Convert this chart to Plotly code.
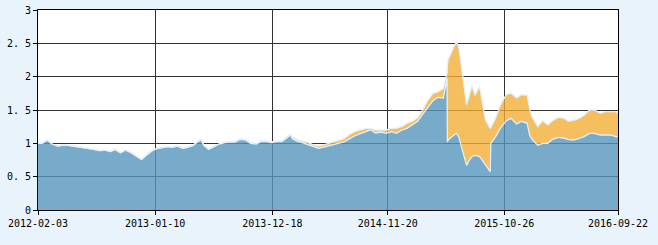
import plotly.graph_objects as go

dates = [
    "2012-02-03", "2012-02-15", "2012-03-01", "2012-03-15", "2012-04-01", "2012-04-15",
    "2012-05-01", "2012-05-15", "2012-06-01", "2012-06-15", "2012-07-01", "2012-07-15",
    "2012-08-01", "2012-08-15", "2012-09-01", "2012-09-15", "2012-10-01", "2012-10-15",
    "2012-11-01", "2012-11-15", "2012-12-01", "2012-12-15", "2013-01-01", "2013-01-15",
    "2013-02-01", "2013-02-15", "2013-03-01", "2013-03-15", "2013-04-01", "2013-04-15",
    "2013-05-01", "2013-05-15", "2013-05-24", "2013-06-01", "2013-06-15", "2013-07-01",
    "2013-07-15", "2013-08-01", "2013-08-15", "2013-09-01", "2013-09-15", "2013-10-01",
    "2013-10-15", "2013-11-01", "2013-11-15", "2013-12-01", "2013-12-15", "2014-01-01",
    "2014-01-15", "2014-02-01", "2014-02-08", "2014-02-15", "2014-03-01", "2014-03-15",
    "2014-04-01", "2014-04-15", "2014-05-01", "2014-05-15", "2014-06-01", "2014-06-15",
    "2014-07-01", "2014-07-15", "2014-08-01", "2014-08-15", "2014-09-01", "2014-09-15",
    "2014-10-01", "2014-10-15", "2014-11-01", "2014-11-15", "2014-12-01", "2014-12-15",
    "2015-01-01", "2015-01-15", "2015-02-01", "2015-02-15", "2015-03-01", "2015-03-15",
    "2015-04-01", "2015-04-15", "2015-05-01", "2015-05-12", "2015-05-13", "2015-05-15",
    "2015-06-01", "2015-06-08", "2015-06-15", "2015-07-01", "2015-07-08", "2015-07-15",
    "2015-07-24", "2015-08-01", "2015-08-15", "2015-09-01", "2015-09-15", "2015-09-17",
    "2015-10-01", "2015-10-15", "2015-11-01", "2015-11-15", "2015-12-01", "2015-12-15",
    "2016-01-01", "2016-01-08", "2016-01-15", "2016-02-01", "2016-02-15", "2016-03-01",
    "2016-03-15", "2016-04-01", "2016-04-15", "2016-05-01", "2016-05-15", "2016-06-01",
    "2016-06-15", "2016-07-01", "2016-07-15", "2016-08-01", "2016-08-15", "2016-09-01",
    "2016-09-15", "2016-09-22",
]

blue_values = [
    1.00, 1.00, 1.05, 0.99, 0.96, 0.975,
    0.97, 0.96, 0.95, 0.94, 0.925, 0.91,
    0.89, 0.90, 0.875, 0.91, 0.86, 0.90,
    0.86, 0.81, 0.76, 0.82, 0.89, 0.92,
    0.94, 0.95, 0.94, 0.96, 0.925, 0.94,
    0.97, 1.03, 1.05, 0.97, 0.91, 0.95,
    0.99, 1.01, 1.02, 1.02, 1.06, 1.05,
    1.00, 0.99, 1.025, 1.025, 1.01, 1.025,
    1.025, 1.09, 1.125, 1.07, 1.03, 1.01,
    0.98, 0.945, 0.925, 0.94, 0.96, 0.975,
    0.995, 1.02, 1.07, 1.11, 1.145, 1.17,
    1.20, 1.155, 1.17, 1.15, 1.175, 1.15,
    1.20, 1.225, 1.285, 1.33, 1.43, 1.53,
    1.64, 1.69, 1.68, 1.975, 1.02, 1.05,
    1.12, 1.15, 1.10, 0.80, 0.67, 0.74,
    0.80, 0.82, 0.80, 0.68, 0.575, 1.00,
    1.10, 1.23, 1.34, 1.375, 1.29, 1.33,
    1.30, 1.12, 1.06, 0.97, 1.00, 1.00,
    1.06, 1.09, 1.08, 1.055, 1.05, 1.075,
    1.10, 1.15, 1.15, 1.125, 1.125, 1.125,
    1.10, 1.10,
]

orange_values = [
    1.00, 1.00, 1.05, 0.99, 0.96, 0.975,
    0.97, 0.96, 0.95, 0.94, 0.925, 0.91,
    0.89, 0.90, 0.875, 0.91, 0.86, 0.90,
    0.86, 0.81, 0.76, 0.82, 0.89, 0.92,
    0.94, 0.95, 0.945, 0.96, 0.925, 0.945,
    0.97, 1.03, 1.06, 0.975, 0.91, 0.95,
    0.99, 1.015, 1.025, 1.03, 1.07, 1.06,
    1.01, 1.00, 1.035, 1.035, 1.02, 1.035,
    1.035, 1.10, 1.14, 1.09, 1.055, 1.035,
    1.015, 0.98, 0.96, 0.975, 1.00, 1.025,
    1.045, 1.07, 1.135, 1.175, 1.20, 1.22,
    1.225, 1.20, 1.20, 1.20, 1.225, 1.225,
    1.255, 1.30, 1.335, 1.385, 1.49, 1.63,
    1.75, 1.77, 1.82, 2.05, 2.15, 2.25,
    2.45, 2.52, 2.45, 1.80, 1.58, 1.70,
    1.87, 1.72, 1.85, 1.35, 1.225, 1.24,
    1.38, 1.58, 1.73, 1.75, 1.68, 1.73,
    1.72, 1.52, 1.40, 1.25, 1.34, 1.28,
    1.34, 1.39, 1.38, 1.33, 1.345, 1.375,
    1.42, 1.50, 1.50, 1.45, 1.475, 1.475,
    1.475, 1.45,
]

tick_dates = ["2012-02-03", "2013-01-10", "2013-12-18", "2014-11-20", "2015-10-26", "2016-09-22"]
y_ticks = [0, 0.5, 1, 1.5, 2, 2.5, 3]
y_tick_text = ["0", "0. 5", "1", "1. 5", "2", "2. 5", "3"]

edge = "rgba(225,240,250,1)"

fig = go.Figure()
fig.add_trace(go.Scatter(
    x=dates, y=blue_values, mode="lines", fill="tozeroy",
    line=dict(color=edge, width=1.3),
    fillcolor="rgba(86,149,187,0.8)", hoverinfo="skip", showlegend=False,
))
fig.add_trace(go.Scatter(
    x=dates, y=orange_values, mode="lines", fill="tonexty",
    line=dict(color=edge, width=1.3),
    fillcolor="rgba(242,172,50,0.78)", hoverinfo="skip", showlegend=False,
))

font = dict(family="DejaVu Sans Mono", size=10, color="#000000")
fig.update_layout(
    width=658, height=245,
    margin=dict(l=38, r=40, t=10, b=35, autoexpand=False),
    paper_bgcolor="#e8f3fb",
    plot_bgcolor="#ffffff",
    font=font,
    showlegend=False,
)
fig.update_xaxes(
    type="date", automargin=False,
    range=["2012-02-03", "2016-09-22"],
    tickvals=tick_dates, ticktext=tick_dates,
    showgrid=True, gridcolor="#333333", gridwidth=1,
    showline=True, linecolor="#000000", linewidth=1, mirror=True,
    ticks="outside", ticklen=4, tickcolor="#000000",
    tickfont=font, zeroline=False,
)
fig.update_yaxes(
    range=[0, 3], automargin=False,
    tickvals=y_ticks, ticktext=y_tick_text,
    showgrid=True, gridcolor="#333333", gridwidth=1,
    showline=True, linecolor="#000000", linewidth=1, mirror=True,
    ticks="outside", ticklen=4, tickcolor="#000000",
    tickfont=font, zeroline=False,
)

fig.write_html("out.html")
